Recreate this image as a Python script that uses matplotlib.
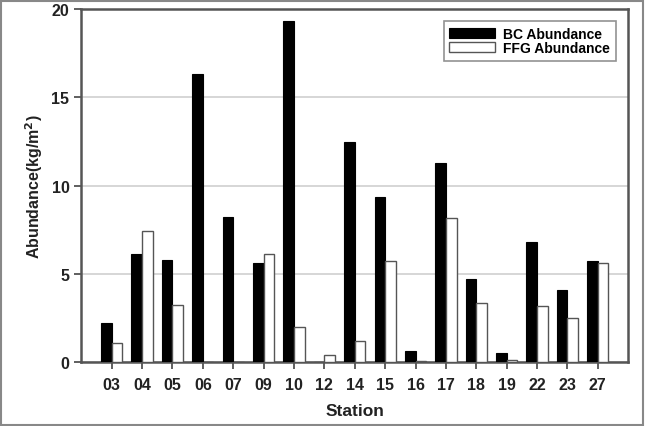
import numpy as np
import matplotlib
matplotlib.use("Agg")
import matplotlib.pyplot as plt
from matplotlib.patches import Rectangle

plt.rcParams['font.family'] = ['Liberation Sans', 'DejaVu Sans']

stations = ["03", "04", "05", "06", "07", "09", "10", "12", "14",
            "15", "16", "17", "18", "19", "22", "23", "27"]
bc = [2.2, 6.1, 5.8, 16.3, 8.2, 5.6, 19.35, 0.0, 12.45,
      9.35, 0.6, 11.3, 4.7, 0.5, 6.8, 4.1, 5.7]
ffg = [1.1, 7.45, 3.25, 0.0, 0.0, 6.1, 2.0, 0.4, 1.2,
       5.75, 0.05, 8.15, 3.35, 0.12, 3.2, 2.5, 5.6]

fig = plt.figure(figsize=(6.45, 4.27), dpi=100)
ax = fig.add_axes([0.126, 0.150, 0.848, 0.826])

x = np.arange(len(stations))
w = 0.35
ax.bar(x - w / 2, bc, w, color="black", edgecolor="black", linewidth=0.8,
       label="BC Abundance", zorder=3)
ax.bar(x + w / 2, ffg, w, color="white", edgecolor="#555555", linewidth=1.0,
       label="FFG Abundance", zorder=3)

ax.set_xlim(-1, len(stations))
ax.set_ylim(0, 20)
ax.set_yticks([0, 5, 10, 15, 20])
ax.set_xticks(x)
ax.set_xticklabels(stations)
ax.yaxis.grid(True, color="#d0d0d0", linewidth=1.2, zorder=0)

for lab in ax.get_xticklabels() + ax.get_yticklabels():
    lab.set_fontweight("bold")
    lab.set_fontsize(11.5)
    lab.set_color("#222222")
ax.tick_params(axis="both", direction="out", length=5, width=1.2, color="#444444")
ax.tick_params(axis="x", pad=6)

for s in ax.spines.values():
    s.set_linewidth(1.8)
    s.set_color("#555555")

ax.set_xlabel("Station", fontsize=12.5, fontweight="bold", color="#222222", labelpad=8)
ax.set_ylabel("Abundance(kg/m$^\\mathbf{2}$)", fontsize=11.5, fontweight="bold",
              color="#222222", labelpad=5)

leg = ax.legend(loc="upper right", bbox_to_anchor=(0.99, 0.985),
                prop={"weight": "bold", "size": 10}, frameon=True, fancybox=False,
                handlelength=3.3, handleheight=0.7, labelspacing=0.0,
                borderpad=0.4, handletextpad=0.6)
leg.get_frame().set_edgecolor("#777777")
leg.get_frame().set_linewidth(1.2)

fig.patches.append(Rectangle((0.002, 0.003), 0.995, 0.993, transform=fig.transFigure,
                             fill=False, edgecolor="#888888", linewidth=1.5))

fig.savefig("out.png", dpi=100)
